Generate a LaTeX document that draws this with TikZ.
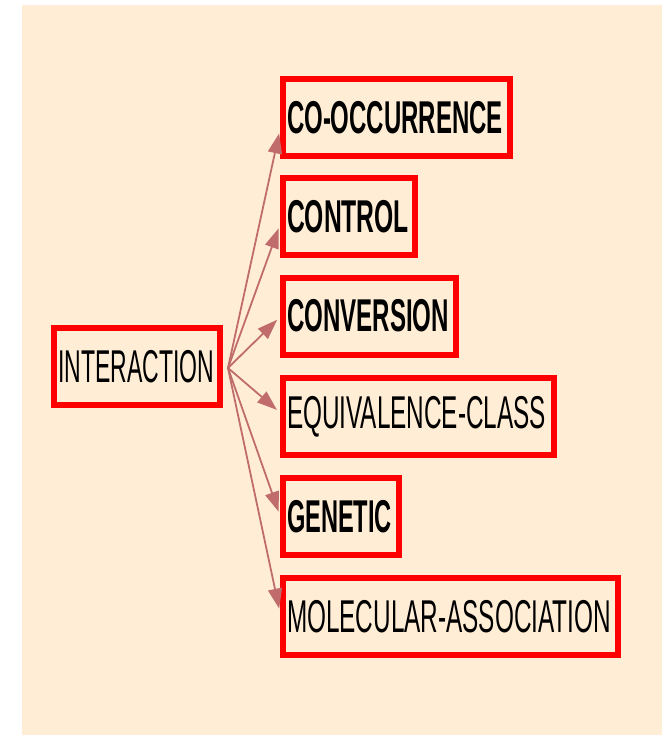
\documentclass[tikz,border=0pt]{standalone}
\usepackage{fontspec}
\setmainfont{Liberation Sans}
\usetikzlibrary{arrows.meta}
\definecolor{bgbeige}{RGB}{255,237,214}
\definecolor{boxred}{RGB}{255,0,0}
\definecolor{arrowrose}{RGB}{192,108,108}
\newcommand{\lbl}[2]{\resizebox{#1}{\height}{\fontsize{46}{46}\selectfont #2}}
\newcommand{\blbl}[2]{\resizebox{#1}{\height}{\fontsize{46}{46}\selectfont\bfseries #2}}
\tikzset{
  termbox/.style={draw=boxred, line width=6pt, anchor=west, inner xsep=4pt, inner ysep=0pt,
    minimum height=77pt, align=left, text=black},
  linkarrow/.style={draw=arrowrose, line width=1.8pt, -{Triangle[length=20pt,width=14pt]}, shorten >=4pt}
}
\begin{document}
\begin{tikzpicture}[x=1pt,y=-1pt]
\useasboundingbox (0,0) rectangle (663,735);
\fill[white] (0,0) rectangle (663,735);
\fill[bgbeige] (22,5) rectangle (662,735);

\node[termbox, text width=158pt] (int) at (51,366.5) {\lbl{156pt}{INTERACTION}};
\node[termbox, text width=219pt] (co) at (280,117.5) {\blbl{216pt}{CO-OCCURRENCE}};
\node[termbox, text width=124pt] (ctl) at (280,216.5) {\blbl{122pt}{CONTROL}};
\node[termbox, text width=165pt] (conv) at (280,316) {\blbl{162pt}{CONVERSION}};
\node[termbox, text width=263pt] (eq) at (280,416.5) {\lbl{259pt}{EQUIVALENCE-CLASS}};
\node[termbox, text width=108pt] (gen) at (280,516.5) {\blbl{105pt}{GENETIC}};
\node[termbox, text width=327pt] (mol) at (280,616.5) {\lbl{324pt}{MOLECULAR-ASSOCIATION}};

\coordinate (hub) at ([xshift=5pt,yshift=-1.5pt]int.east);
\draw[linkarrow] (hub) -- ([yshift=-12pt]co.west);
\draw[linkarrow] (hub) -- ([yshift=-8pt]ctl.west);
\draw[linkarrow] (hub) -- ([yshift=-1pt]conv.west);
\draw[linkarrow] (hub) -- ([yshift=4pt]eq.west);
\draw[linkarrow] (hub) -- ([yshift=1pt]gen.west);
\draw[linkarrow] (hub) -- ([yshift=4pt]mol.west);
\end{tikzpicture}
\end{document}
